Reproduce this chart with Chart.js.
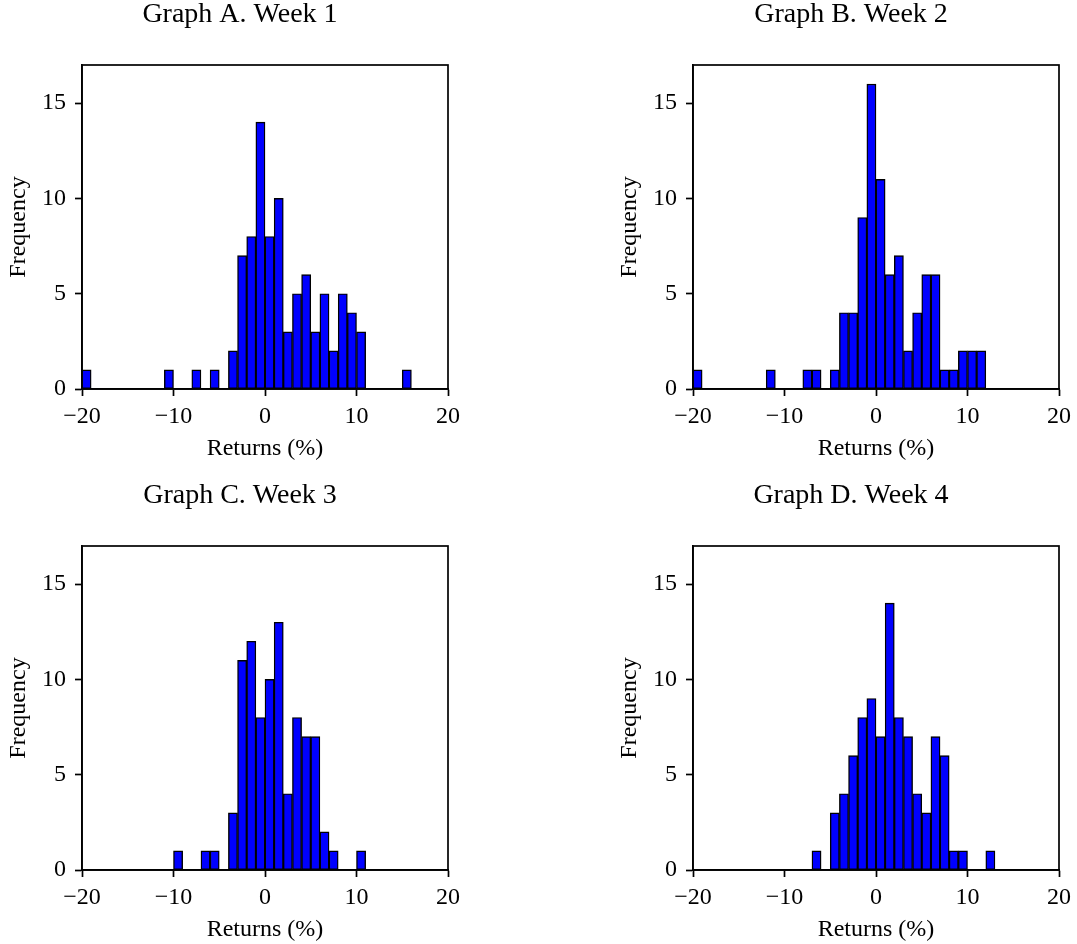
<!DOCTYPE html>
<html>
<head>
<meta charset="utf-8">
<script src="https://cdn.jsdelivr.net/npm/chart.js@4.4.0/dist/chart.umd.min.js"></script>
<style>
  body { margin: 0; background: #fff; }
  #wrap { position: relative; width: 1077px; height: 944px; }
  canvas { position: absolute; }
</style>
</head>
<body>
<div id="wrap">
  <canvas id="chartA" width="538" height="472" style="left:0;top:0"></canvas>
  <canvas id="chartB" width="539" height="472" style="left:538px;top:0"></canvas>
  <canvas id="chartC" width="538" height="472" style="left:0;top:472px"></canvas>
  <canvas id="chartD" width="539" height="472" style="left:538px;top:472px"></canvas>
</div>
<script>
// left edge of each 1% bin
var binLeft = [-20,-19,-18,-17,-16,-15,-14,-13,-12,-11,-10,-9,-8,-7,-6,-5,-4,-3,-2,-1,
               0,1,2,3,4,5,6,7,8,9,10,11,12,13,14,15,16,17,18];

var week1 = [1,0,0,0,0,0,0,0,0,1, 0,0,1,0,1,0,2,7,8,14, 8,10,3,5,6,3,5,2,5,4, 3,0,0,0,0,1,0,0,0];
var week2 = [1,0,0,0,0,0,0,0,1,0, 0,0,1,1,0,1,4,4,9,16, 11,6,7,2,4,6,6,1,1,2, 2,2,0,0,0,0,0,0,0];
var week3 = [0,0,0,0,0,0,0,0,0,0, 1,0,0,1,1,0,3,11,12,8, 10,13,4,8,7,7,2,1,0,0, 1,0,0,0,0,0,0,0,0];
var week4 = [0,0,0,0,0,0,0,0,0,0, 0,0,0,1,0,3,4,6,8,9, 7,14,8,7,4,3,7,6,1,1, 0,0,1,0,0,0,0,0,0];

var titles = ["Graph A. Week 1", "Graph B. Week 2", "Graph C. Week 3", "Graph D. Week 4"];
var xTicks = [-20, -10, 0, 10, 20];
var yTicks = [0, 5, 10, 15];

var serif = "'Liberation Serif', 'Times New Roman', serif";

// box around the axes + panel title above it
var framePlugin = {
  id: "frame",
  afterDatasetsDraw: function(chart, args, opts) {
    var a = chart.chartArea;
    var ctx = chart.ctx;
    ctx.save();
    ctx.strokeStyle = "#000";
    ctx.lineWidth = 1.7;
    ctx.strokeRect(a.left, a.top, a.right - a.left, a.bottom - a.top);
    ctx.fillStyle = "#000";
    ctx.font = "28px " + serif;
    ctx.textAlign = "center";
    ctx.textBaseline = "alphabetic";
    // titles sit a little left of the axes centre in the original
    ctx.fillText(opts.title, (a.left + a.right) / 2 - 25, a.top - 43);
    ctx.restore();
  }
};

function drawHist(id, counts, title, pad) {
  var points = binLeft.map(function(b, i) { return { x: b + 0.5, y: counts[i] }; });
  new Chart(id, {
    type: "bar",
    data: {
      datasets: [{
        data: points,
        backgroundColor: "#0000ff",
        borderColor: "#000000",
        borderWidth: 1.4,
        borderSkipped: false,
        barPercentage: 1,
        categoryPercentage: 1
      }]
    },
    options: {
      responsive: false,
      animation: false,
      devicePixelRatio: 1,
      layout: { padding: pad },
      plugins: {
        legend: { display: false },
        tooltip: { enabled: false },
        frame: { title: title }
      },
      scales: {
        x: {
          type: "linear",
          min: -20,
          max: 20,
          offset: false,
          afterBuildTicks: function(s) { s.ticks = xTicks.map(function(v) { return { value: v }; }); },
          afterFit: function(s) { s.height = 74; },
          grid: { drawOnChartArea: false, drawTicks: true, tickLength: 7, tickWidth: 1.7, tickColor: "#000", offset: false },
          border: { display: true, color: "#000", width: 1.7 },
          ticks: {
            color: "#000",
            padding: 6,
            maxRotation: 0,
            font: { family: serif, size: 24 },
            callback: function(v) { return String(v).replace("-", "\u2212"); }
          },
          title: { display: true, text: "Returns (%)", color: "#000", padding: { top: 0, bottom: 0 }, font: { family: serif, size: 24 } }
        },
        y: {
          min: 0,
          max: 17,
          afterBuildTicks: function(s) { s.ticks = yTicks.map(function(v) { return { value: v }; }); },
          afterFit: function(s) { s.width = 82; },
          grid: { drawOnChartArea: false, drawTicks: true, tickLength: 7, tickWidth: 1.7, tickColor: "#000" },
          border: { display: true, color: "#000", width: 1.7 },
          ticks: { color: "#000", padding: 9, font: { family: serif, size: 24 } },
          title: { display: true, text: "Frequency", color: "#000", padding: { top: 4, bottom: 0 }, font: { family: serif, size: 24 } }
        }
      }
    },
    plugins: [framePlugin]
  });
}

drawHist("chartA", week1, titles[0], { top: 65, left: 0, right: 90, bottom: 9 });
drawHist("chartB", week2, titles[1], { top: 65, left: 73, right: 17, bottom: 9 });
drawHist("chartC", week3, titles[2], { top: 74, left: 0, right: 90, bottom: 0 });
drawHist("chartD", week4, titles[3], { top: 74, left: 73, right: 17, bottom: 0 });
</script>
</body>
</html>
